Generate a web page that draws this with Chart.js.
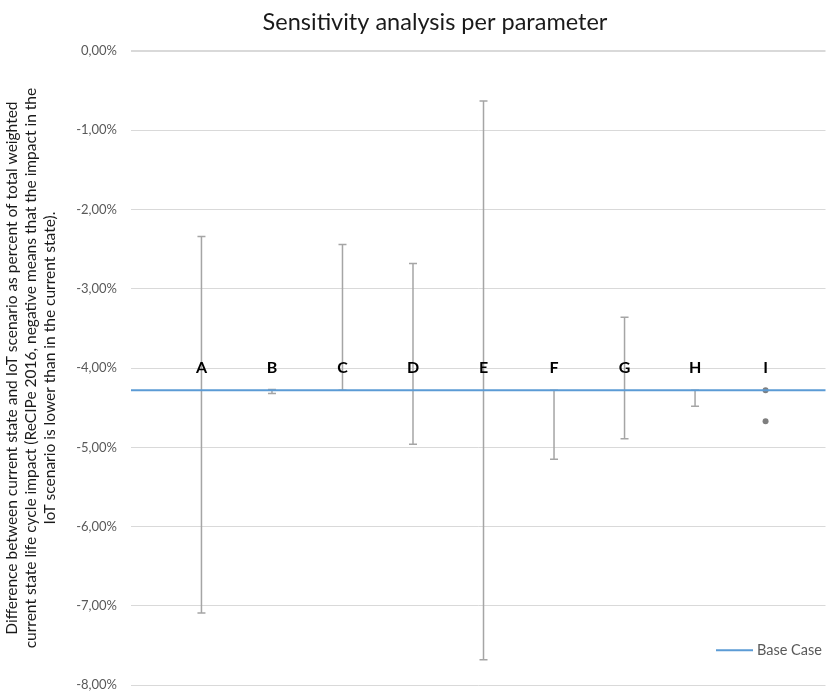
<!DOCTYPE html>
<html>
<head>
<meta charset="utf-8">
<title>Sensitivity analysis per parameter</title>
<script src="https://cdn.jsdelivr.net/npm/chart.js@4.4.1/dist/chart.umd.min.js"></script>
<style>
  html, body { margin: 0; padding: 0; background: #fff; }
  #wrap { width: 831px; height: 693px; position: relative; }
</style>
</head>
<body>
<div id="wrap"><canvas id="sensChart"></canvas></div>
<script>
// values (percent)
var chartTitle = "Sensitivity analysis per parameter";
var categories = ["A", "B", "C", "D", "E", "F", "G", "H", "I"];
var lowValues = [-7.09, -4.32, -4.28, -4.96, -7.68, -5.15, -4.89, -4.48, -4.67];
var highValues = [-2.34, -4.27, -2.44, -2.68, -0.63, -4.28, -3.36, -4.28, -4.28];
var pointsOnly = ["I"]; // shown as two dots, no range line
var baseCase = -4.28;
var labelLevel = -4.0;
var yTicks = [0, -1, -2, -3, -4, -5, -6, -7, -8];

var fmtPct = function (v) {
  return v.toFixed(2).replace(".", ",") + "%";
};

var datasets = [
  {
    label: "Base Case",
    type: "line",
    data: [{ x: 0, y: baseCase }, { x: categories.length + 1, y: baseCase }],
    borderColor: "#5b9bd5",
    borderWidth: 2,
    pointRadius: 0,
    order: 0,
  },
];

categories.forEach(function (cat, i) {
  var dots = pointsOnly.indexOf(cat) !== -1;
  datasets.push({
    label: cat,
    type: "line",
    data: [{ x: i + 1, y: lowValues[i] }, { x: i + 1, y: highValues[i] }],
    showLine: !dots,
    borderColor: "#a5a5a5",
    borderWidth: 1.5,
    pointStyle: dots ? "circle" : "line",
    pointRadius: dots ? 3 : 4,
    pointBorderWidth: dots ? 0 : 1.5,
    pointBackgroundColor: "#7f7f7f",
    pointBorderColor: dots ? "#7f7f7f" : "#a5a5a5",
    order: 1,
  });
});

// title, category letters and the corner legend
var extras = {
  id: "extras",
  afterDatasetsDraw: function (chart) {
    var ctx = chart.ctx;
    var xs = chart.scales.x, ys = chart.scales.y;
    ctx.save();
    ctx.textAlign = "center";
    ctx.textBaseline = "middle";
    ctx.font = "23.5px Lato";
    ctx.fillStyle = "#1a1a1a";
    ctx.fillText(chartTitle, 435, 22);

    ctx.font = "bold 16px Lato";
    ctx.fillStyle = "#000";
    categories.forEach(function (cat, i) {
      ctx.fillText(cat, xs.getPixelForValue(i + 1), ys.getPixelForValue(labelLevel));
    });

    var ds = chart.data.datasets[0];
    var a = chart.chartArea;
    var ly = a.bottom - 35;
    ctx.strokeStyle = ds.borderColor;
    ctx.lineWidth = 2;
    ctx.beginPath();
    ctx.moveTo(716, ly);
    ctx.lineTo(753, ly);
    ctx.stroke();
    ctx.font = "14.5px Lato";
    ctx.fillStyle = "#595959";
    ctx.textAlign = "left";
    ctx.fillText(ds.label, 757, ly);
    ctx.restore();
  },
};

var ctx = document.getElementById("sensChart").getContext("2d");
var sensChart = new Chart(ctx, {
  type: "line",
  data: { datasets: datasets },
  options: {
    responsive: true,
    maintainAspectRatio: false,
    animation: false,
    events: [],
    layout: { padding: { left: 2, right: 0, top: 51, bottom: 0 } },
    plugins: {
      legend: { display: false },
      tooltip: { enabled: false },
      title: { display: false },
    },
    scales: {
      x: {
        type: "linear",
        min: 0,
        max: 9.85,
        display: false,
      },
      y: {
        min: yTicks[yTicks.length - 1],
        max: yTicks[0],
        afterBuildTicks: function (axis) {
          axis.ticks = yTicks.map(function (v) { return { value: v }; });
        },
        border: { display: false },
        grid: {
          color: "#d9d9d9",
          lineWidth: function (c) { return c.tick && c.tick.value === 0 ? 2 : 1; },
          drawTicks: true,
          tickLength: 14,
          tickColor: "rgba(0,0,0,0)",
        },
        ticks: {
          color: "#595959",
          font: { family: "Lato", size: 13 },
          padding: 0,
          callback: function (v) { return fmtPct(v); },
        },
        title: {
          display: true,
          text: [
            "Difference between current state and IoT scenario as percent of total weighted",
            "current state life cycle impact (ReCIPe 2016, negative means that the impact in the",
            "IoT scenario is lower than in the current state).",
          ],
          color: "#1a1a1a",
          font: { family: "Lato", size: 15.5, lineHeight: 1.25 },
          padding: { top: 0, bottom: 16 },
        },
      },
    },
  },
  plugins: [extras],
});
</script>
</body>
</html>
